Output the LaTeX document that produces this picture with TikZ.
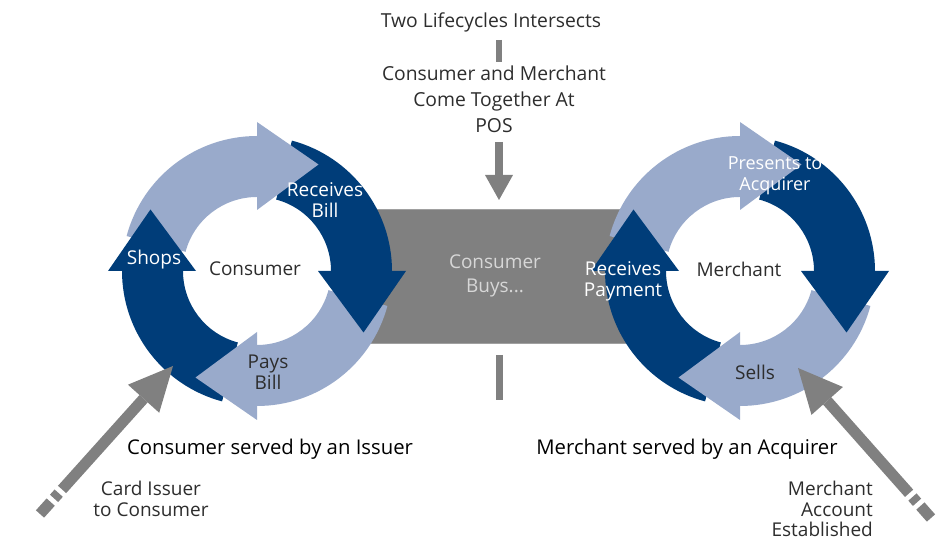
\documentclass[tikz,border=0pt]{standalone}
\usepackage{fontspec}
\setmainfont{Open Sans}
\usetikzlibrary{calc}
\definecolor{navy}{RGB}{0,61,121}
\definecolor{lightblue}{RGB}{153,170,203}
\definecolor{boxgray}{RGB}{128,128,128}
\definecolor{boxedge}{RGB}{160,160,160}
\definecolor{txtgray}{RGB}{45,45,45}
\definecolor{boxtxt}{RGB}{215,215,215}
\newcommand{\ringbody}[3]{% start angle, end angle, colour
  \fill[#3] (#1:135pt) arc[start angle=#1, end angle=#2, radius=135pt] -- (#2:74pt) arc[start angle=#2, end angle=#1, radius=74pt] -- cycle;}
\newcommand{\ringhead}[2]{% base angle, colour
  \fill[#2] (#1:149pt) -- (#1-30:123pt) -- (#1:61pt) -- cycle;}
\newcommand{\ringcycle}{%
  \ringbody{165}{90}{lightblue}
  \ringbody{75}{0}{navy}
  \ringbody{-15}{-90}{lightblue}
  \ringbody{-105}{-180}{navy}
  \ringhead{90}{lightblue}
  \ringhead{0}{navy}
  \ringhead{-90}{lightblue}
  \ringhead{180}{navy}}
\begin{document}
\begin{tikzpicture}[x=1pt,y=1pt,
  lbl/.style={font=\fontsize{19}{21}\selectfont, align=center, inner sep=0pt, text=txtgray},
  wlbl/.style={lbl, text=white},
  toplbl/.style={font=\fontsize{19.3}{26}\selectfont, align=center, inner sep=0pt, text=txtgray},
  boldlbl/.style={font=\fontsize{20.3}{22}\selectfont, inner sep=0pt, text=black},
  bar/.style={draw=boxgray, line width=7pt},
  bigshaft/.style={draw=boxgray, line width=11pt}]
\useasboundingbox (0,0) rectangle (938,540);
% central box
\node[fill=boxgray, draw=boxedge, line width=0.8pt, minimum width=290pt, minimum height=134pt, inner sep=0pt, text=boxtxt,
  font=\fontsize{19}{24}\selectfont, align=center] (buys) at (495,264) {Consumer\\Buys...};
% rings
\coordinate (cL) at (257,269);
\coordinate (cR) at (740,269);
\begin{scope}[shift={(cL)}]\ringcycle\end{scope}
\begin{scope}[shift={(cR)}]\ringcycle\end{scope}
% ring labels
\node[wlbl] (recbill) at (325,340) {Receives\\Bill};
\node[wlbl] (shops) at (154,280) {Shops};
\node[lbl] (consumer) at (255,271) {Consumer};
\node[lbl] (paysbill) at (268,168) {Pays\\Bill};
\node[wlbl, font=\fontsize{18}{21}\selectfont] (presents) at (775,364) {Presents to\\Acquirer};
\node[wlbl] (recpay) at (623,259) {Receives\\Payment};
\node[lbl] (merchant) at (739,271) {Merchant};
\node[lbl] (sells) at (755,168) {Sells};
% top texts
\node[toplbl] (two) at (491,518) {Two Lifecycles Intersects};
\node[toplbl] (cmt) at (494,441) {Consumer and Merchant\\Come Together At\\POS};
\coordinate (barA) at (499,500);
\coordinate (barB) at (499,478);
\draw[bar, line width=6pt] (barA) -- (barB);
\coordinate (dnA) at (499,398);
\coordinate (dnB) at (499,365);
\coordinate (dnTip) at (499,340);
\draw[bar, line width=8pt] (dnA) -- (dnB);
\fill[boxgray] (dnTip) -- ($(dnB)+(-14,0)$) -- ($(dnB)+(14,0)$) -- cycle;
\coordinate (lowA) at (499,185);
\coordinate (lowB) at (499,140);
\draw[bar] (lowA) -- (lowB);
% bottom texts
\node[boldlbl] (issuer) at (270,91) {Consumer served by an Issuer};
\node[boldlbl] (acquirer) at (687,91) {Merchant served by an Acquirer};
\node[lbl] (card) at (151,41) {Card Issuer\\to Consumer};
\node[lbl, font=\fontsize{19}{20.5}\selectfont, align=right, anchor=east] (macct) at (873,31) {Merchant\\Account\\Established};
% diagonal arrows
\coordinate (tailL) at (40,26);
\coordinate (tipL) at (173,174);
\coordinate (hbL) at ($(tipL)!44pt!(tailL)$);
\draw[bigshaft, dash pattern=on 16pt off 5pt on 7pt off 5pt on 500pt] (tailL) -- (hbL);
\fill[boxgray] (tipL) -- ($(hbL)!21pt!90:(tipL)$) -- ($(hbL)!21pt!-90:(tipL)$) -- cycle;
\coordinate (tailR) at (931,22);
\coordinate (tipR) at (798,172);
\coordinate (hbR) at ($(tipR)!44pt!(tailR)$);
\draw[bigshaft, dash pattern=on 16pt off 5pt on 7pt off 5pt on 500pt] (tailR) -- (hbR);
\fill[boxgray] (tipR) -- ($(hbR)!21pt!90:(tipR)$) -- ($(hbR)!21pt!-90:(tipR)$) -- cycle;
\end{tikzpicture}
\end{document}
